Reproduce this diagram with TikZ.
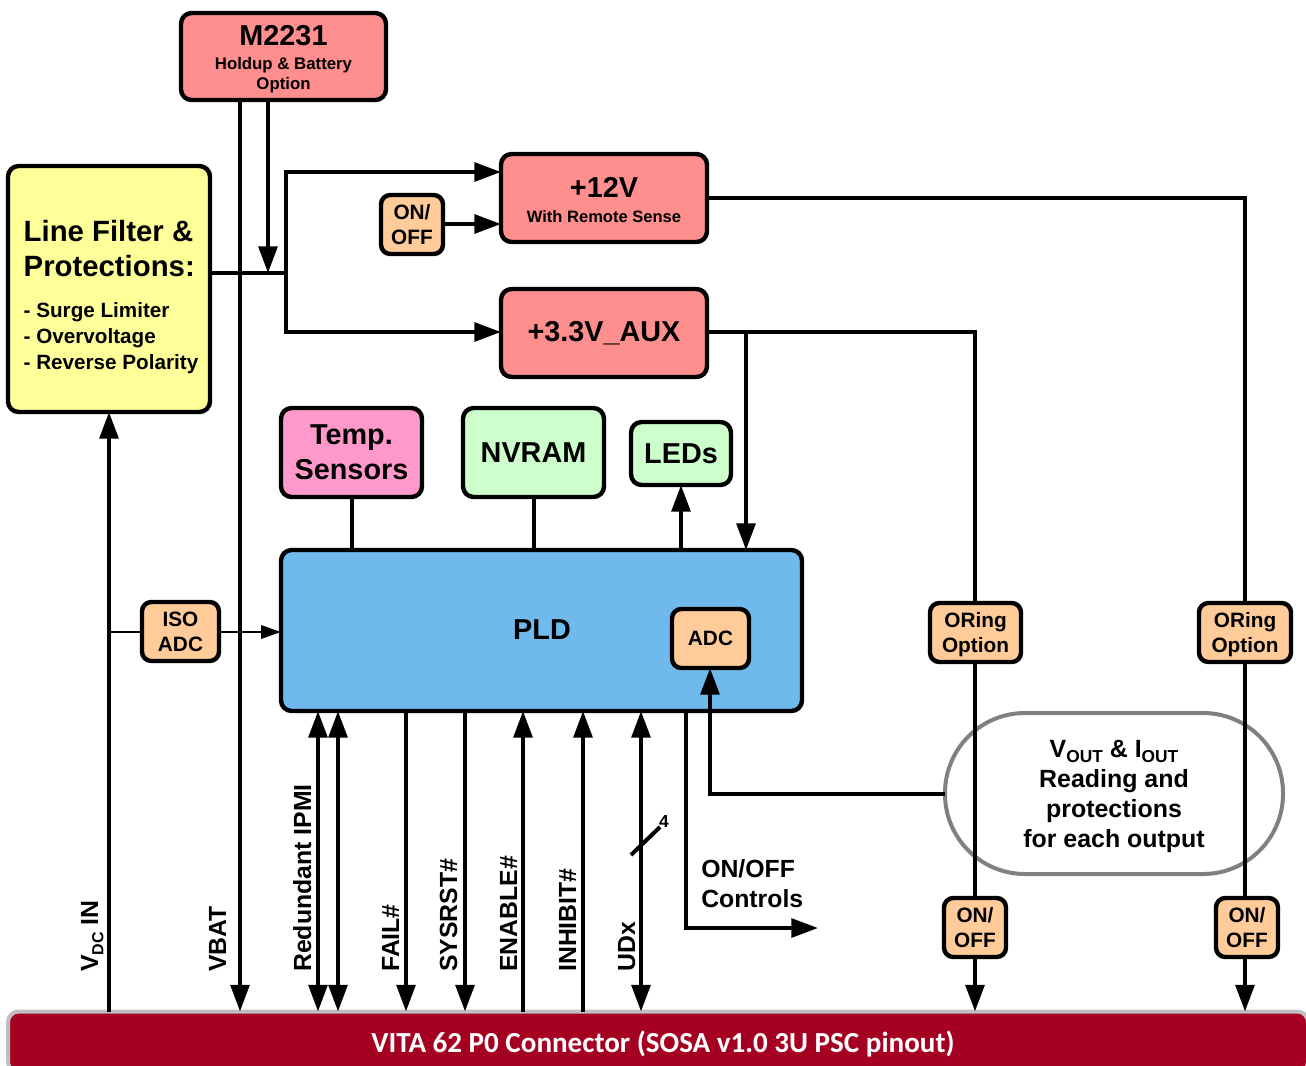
\documentclass[tikz,border=0pt]{standalone}
\usepackage{fontspec}
\setmainfont{Liberation Sans}
\newfontfamily\barfont{Carlito}
\usetikzlibrary{arrows.meta}
\newcommand\fbig{\bfseries\fontsize{21.6}{26}\selectfont}
\newcommand\fhead{\bfseries\fontsize{22}{26}\selectfont}
\newcommand\fmid{\bfseries\fontsize{18.6}{22.5}\selectfont}
\newcommand\fsma{\bfseries\fontsize{15.6}{18.7}\selectfont}
\newcommand\flist{\bfseries\fontsize{15.5}{19}\selectfont}
\newcommand\ftin{\bfseries\fontsize{12.6}{15}\selectfont}
\newcommand\lowtxt[2]{\raisebox{-0.22em}{\fontsize{#1}{#1}\selectfont #2}}
\definecolor{cred}{HTML}{FF8F8F}
\definecolor{cyel}{HTML}{FFFF99}
\definecolor{cora}{HTML}{FFCC99}
\definecolor{cpin}{HTML}{FF99CC}
\definecolor{cgre}{HTML}{CCFFCC}
\definecolor{cblu}{HTML}{6FB9ED}
\definecolor{cbar}{HTML}{A50021}
\definecolor{cgry}{HTML}{808080}
\tikzset{
  sz/.style 2 args={minimum width=#1*0.75pt,minimum height=#2*0.75pt},
  blk/.style={draw=black,line width=3.3pt,rounded corners=8pt,outer sep=0pt,inner sep=0pt,align=center,text=black},
  bigbox/.style={blk,font=\fbig},
  smallbox/.style={blk,rounded corners=7pt,font=\fsma},
  wire/.style={line width=3pt,draw=black,>={Triangle[length=20pt,width=14pt]}},
  thin wire/.style={line width=1.9pt,draw=black,>={Triangle[length=15pt,width=10pt]}},
  vlabel/.style={rotate=90,anchor=base west,inner sep=0pt,font=\fmid},
}
\begin{document}
\begin{tikzpicture}[x=0.75pt,y=-0.75pt]
\useasboundingbox (0,0) rectangle (1306,1065);
% bar
\node[draw=cgry!50!white,fill=cbar,line width=3pt,rounded corners=8pt,outer sep=0pt,inner sep=0pt,sz={1300}{61},text=white,font=\barfont\bfseries\fontsize{21.8}{26}\selectfont] (bar) at (658,1042) {\hspace*{7.5pt}\rule{0pt}{19pt}VITA 62 P0 Connector (SOSA v1.0 3U PSC pinout)};
% pill
\node[draw=cgry,line width=3pt,rounded corners=60pt,outer sep=0pt,inner sep=0pt,sz={338}{161},align=center,font=\bfseries\fontsize{18.7}{22.5}\selectfont] (pill) at (1114,793.5) {\rule{0pt}{17pt}V\lowtxt{13}{OUT} \& I\lowtxt{13}{OUT}\\Reading and\\protections\\for each output};
% boxes
\node[bigbox,fill=cred,sz={205}{87}] (m) at (283.5,56.5) {\rule{0pt}{19.2pt}M2231\\[-7.6pt]{\ftin Holdup \& Battery}\\[-11pt]{\ftin Option}};
\node[bigbox,fill=cyel,sz={202}{246},align=left] (filt) at (109,289) {\rule{0pt}{28pt}{\fhead\hspace*{3pt}Line Filter \&}\\{\fhead\hspace*{3pt}Protections:}\\[4.5pt]{\flist\hspace*{3pt}- Surge Limiter}\\[-6.4pt]{\flist\hspace*{3pt}- Overvoltage}\\[-6.4pt]{\flist\hspace*{3pt}- Reverse Polarity}};
\node[bigbox,fill=cred,sz={206}{88}] (pa) at (604,198) {\rule{0pt}{18pt}+12V\\[-6.75pt]{\fontsize{12.4}{15}\selectfont With Remote Sense}};
\node[bigbox,fill=cred,sz={206}{88}] (pb) at (604,333) {+3.3V\_AUX};
\node[smallbox,fill=cora,sz={62}{59}] (oa) at (412,224.5) {ON/\\OFF};
\node[bigbox,fill=cpin,sz={141}{89}] (temp) at (351.5,452.5) {Temp.\\Sensors};
\node[bigbox,fill=cgre,sz={141}{89}] (nv) at (533.5,452.5) {NVRAM};
\node[bigbox,fill=cgre,sz={100}{63}] (led) at (681,453.5) {LEDs};
\node[bigbox,fill=cblu,sz={521}{161}] (pld) at (541.5,630.5) {};
\node[font=\fbig,inner sep=0pt] (pldt) at (542,630) {PLD};
\node[smallbox,fill=cora,sz={77}{59}] (adc) at (710.5,638.5) {ADC};
\node[smallbox,fill=cora,sz={77}{59}] (iso) at (180.5,631.5) {ISO\\ADC};
\node[smallbox,fill=cora,sz={91}{59}] (ora) at (975.5,632.5) {\rule{0pt}{14.5pt}ORing\\Option};
\node[smallbox,fill=cora,sz={92}{59}] (orb) at (1245,632.5) {\rule{0pt}{14.5pt}ORing\\Option};
\node[smallbox,fill=cora,sz={62}{59}] (ona) at (975,927.5) {ON/\\OFF};
\node[smallbox,fill=cora,sz={62}{59}] (onb) at (1247,927.5) {ON/\\OFF};
% helper coordinates
\coordinate (xin) at (109,0);
\coordinate (xvb) at (240,0);
\coordinate (xmb) at (268,0);
\coordinate (ja) at (286,273);
\coordinate (jb) at (268,273);
\coordinate (xa) at (975,0);
\coordinate (xb) at (1245,0);
\coordinate (ya) at (0,172);
\coordinate (yb) at (0,224);
\coordinate (yc) at (0,332);
\coordinate (xbr) at (746,332);
\coordinate (xt) at (352,0);
\coordinate (xn) at (534,0);
\coordinate (xl) at (681,0);
\coordinate (yo) at (0,198);
\coordinate (yiso) at (0,632);
\coordinate (sa) at (631,855);
\coordinate (sb) at (660,827);
\coordinate (xi1) at (318,0);
\coordinate (xi2) at (338,0);
\coordinate (xf) at (406,0);
\coordinate (xs) at (465,0);
\coordinate (xe) at (523,0);
\coordinate (xh) at (583,0);
\coordinate (xu) at (641,0);
\coordinate (xo) at (686,0);
\coordinate (oe) at (686,928);
\coordinate (of) at (818,928);
\coordinate (xad) at (710,0);
\coordinate (ym) at (0,794);
% connectors
\draw[wire,->] (m.south -| xvb) -- (bar.north -| xvb);
\draw[wire,->] (m.south -| xmb) -- (jb);
\draw[wire] (filt.east |- ja) -- (ja);
\draw[wire,->] (ja) -- (ja |- ya) -- (pa.west |- ya);
\draw[wire,->] (ja) -- (ja |- yc) -- (pb.west |- yc);
\draw[wire,->] (oa.east |- yb) -- (pa.west |- yb);
\draw[wire] (pa.east |- yo) -- (xb |- yo) -- (orb.north -| xb);
\draw[wire] (pb.east |- yc) -- (xa |- yc) -- (ora.north -| xa);
\draw[wire,->] (xbr) -- (pld.north -| xbr);
\draw[wire] (temp.south -| xt) -- (pld.north -| xt);
\draw[wire] (nv.south -| xn) -- (pld.north -| xn);
\draw[wire,->] (pld.north -| xl) -- (led.south -| xl);
\draw[wire,->] (bar.north -| xin) -- (filt.south -| xin);
\draw[thin wire] (xin |- yiso) -- (iso.west |- yiso);
\draw[thin wire,->] (iso.east |- yiso) -- (pld.west |- yiso);
\draw[wire,<->] (pld.south -| xi1) -- (bar.north -| xi1);
\draw[wire,<->] (pld.south -| xi2) -- (bar.north -| xi2);
\draw[wire,->] (pld.south -| xf) -- (bar.north -| xf);
\draw[wire,->] (pld.south -| xs) -- (bar.north -| xs);
\draw[wire,->] (bar.north -| xe) -- (pld.south -| xe);
\draw[wire,->] (bar.north -| xh) -- (pld.south -| xh);
\draw[wire,<->] (pld.south -| xu) -- (bar.north -| xu);
\draw[wire,->] (pld.south -| xo) -- (oe) -- (of);
\draw[wire,->] (pill.west |- ym) -- (xad |- ym) -- (adc.south -| xad);
\draw[wire] (ora.south -| xa) -- (ona.north -| xa);
\draw[wire] (orb.south -| xb) -- (onb.north -| xb);
\draw[wire,->] (ona.south -| xa) -- (bar.north -| xa);
\draw[wire,->] (onb.south -| xb) -- (bar.north -| xb);
\draw[line width=3pt] (sa) -- (sb);
% labels
\node[font=\bfseries\fontsize{13}{15}\selectfont,inner sep=0pt] (four) at (664,822) {4};
\node[vlabel] (lvdc) at (98,972) {V\lowtxt{12}{DC} IN};
\node[vlabel] (lvb) at (226,972) {VBAT};
\node[vlabel] (lip) at (311,972) {Redundant IPMI};
\node[vlabel] (lf) at (399,972) {FAIL\#};
\node[vlabel] (ls) at (457,972) {SYSRST\#};
\node[vlabel] (le) at (517,972) {ENABLE\#};
\node[vlabel] (lh) at (576,972) {INHIBIT\#};
\node[vlabel] (lu) at (635,972) {UDx};
\node[font=\bfseries\fontsize{18.6}{22.5}\selectfont,align=left,inner sep=0pt,anchor=north west] (lon) at (701,859) {ON/OFF\\Controls};
\end{tikzpicture}
\end{document}
